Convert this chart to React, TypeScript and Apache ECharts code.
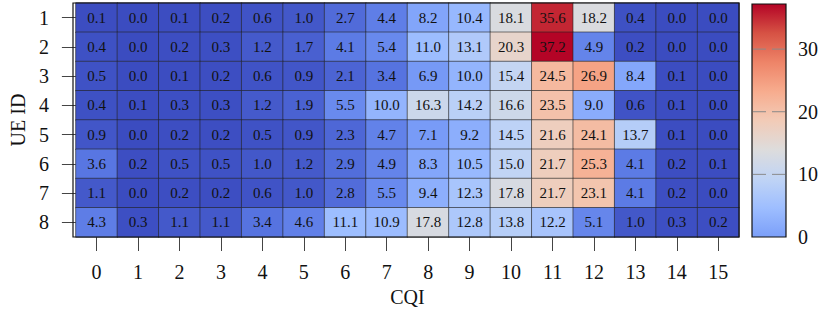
import React, { useEffect, useRef } from "react";
import * as echarts from "echarts";

const cqiLabels = ["0","1","2","3","4","5","6","7","8","9","10","11","12","13","14","15"];
const ueLabels = ["1","2","3","4","5","6","7","8"];
const ue1 = [0.1,0.0,0.1,0.2,0.6,1.0,2.7,4.4,8.2,10.4,18.1,35.6,18.2,0.4,0.0,0.0];
const ue2 = [0.4,0.0,0.2,0.3,1.2,1.7,4.1,5.4,11.0,13.1,20.3,37.2,4.9,0.2,0.0,0.0];
const ue3 = [0.5,0.0,0.1,0.2,0.6,0.9,2.1,3.4,6.9,10.0,15.4,24.5,26.9,8.4,0.1,0.0];
const ue4 = [0.4,0.1,0.3,0.3,1.2,1.9,5.5,10.0,16.3,14.2,16.6,23.5,9.0,0.6,0.1,0.0];
const ue5 = [0.9,0.0,0.2,0.2,0.5,0.9,2.3,4.7,7.1,9.2,14.5,21.6,24.1,13.7,0.1,0.0];
const ue6 = [3.6,0.2,0.5,0.5,1.0,1.2,2.9,4.9,8.3,10.5,15.0,21.7,25.3,4.1,0.2,0.1];
const ue7 = [1.1,0.0,0.2,0.2,0.6,1.0,2.8,5.5,9.4,12.3,17.8,21.7,23.1,4.1,0.2,0.0];
const ue8 = [4.3,0.3,1.1,1.1,3.4,4.6,11.1,10.9,17.8,12.8,13.8,12.2,5.1,1.0,0.3,0.2];
const rows = [ue1, ue2, ue3, ue4, ue5, ue6, ue7, ue8];
const colorbarTicks = [0, 10, 20, 30];
const vMin = 0;
const vMax = 37.2;

const coolwarm = ["#3b4cc0","#5977e3","#7b9ff9","#9ebeff","#c0d4f5","#dddcdc","#f2cbb7","#f7ac8e","#ee8468","#d65244","#b40426"];

const FONT = "'Liberation Serif', 'DejaVu Serif', serif";

export default function App() {
  const ref = useRef<HTMLDivElement>(null);
  useEffect(() => {
    if (!ref.current) return;
    const chart = echarts.init(ref.current, undefined, { renderer: "svg" });
    const data: [number, number, number][] = [];
    rows.forEach((r, yi) => r.forEach((v, xi) => data.push([xi, yi, v])));

    const gL = 73, gT = 3, gW = 666, gH = 234;
    const cbL = 752, cbT = 4, cbW = 34, cbH = 233;
    // colorbar uses coolwarm 0.2..1.0, top = red
    const cbColors = coolwarm.slice(2).reverse();
    const cbStops = cbColors.map((c, i) => ({ offset: i / (cbColors.length - 1), color: c }));

    const graphics: any[] = [
      {
        type: "rect",
        shape: { x: cbL, y: cbT, width: cbW, height: cbH },
        style: {
          fill: {
            type: "linear",
            x: 0, y: 0, x2: 0, y2: 1,
            colorStops: cbStops,
            global: false,
          },
          stroke: "#111",
          lineWidth: 1.2,
        },
        z: 10,
      },
      {
        type: "rect",
        shape: { x: gL, y: gT, width: gW, height: gH },
        style: { fill: "none", stroke: "#111", lineWidth: 1.2 },
        z: 10,
      },
    ];
    colorbarTicks.forEach((t) => {
      const y = cbT + cbH - ((t - vMin) / (vMax - vMin)) * cbH;
      if (t > vMin) {
        graphics.push({
          type: "line",
          shape: { x1: cbL + 1, y1: y, x2: cbL + 14, y2: y },
          style: { stroke: "#8a8a8a", lineWidth: 1 },
          z: 11,
        });
        graphics.push({
          type: "line",
          shape: { x1: cbL + cbW - 14, y1: y, x2: cbL + cbW - 1, y2: y },
          style: { stroke: "#8a8a8a", lineWidth: 1 },
          z: 11,
        });
      }
      graphics.push({
        type: "text",
        x: cbL + cbW + 12,
        y: y,
        style: {
          text: String(t),
          fontSize: 20,
          fontFamily: FONT,
          fill: "#111",
          verticalAlign: "middle",
          align: "left",
        },
        z: 11,
      });
    });

    chart.setOption({
      animation: false,
      backgroundColor: "#fff",
      grid: { left: gL, top: gT, width: gW, height: gH, containLabel: false },
      xAxis: {
        type: "category",
        data: cqiLabels,
        name: "CQI",
        nameLocation: "middle",
        nameGap: 48,
        nameTextStyle: { fontSize: 20, fontFamily: FONT, color: "#111" },
        axisLine: { show: false },
        axisTick: { show: true, alignWithLabel: true, length: 14, lineStyle: { color: "#444", width: 1 } },
        axisLabel: { fontSize: 20, fontFamily: FONT, color: "#111", margin: 25 },
        splitLine: { show: false },
      },
      yAxis: {
        type: "category",
        data: ueLabels,
        inverse: true,
        name: "UE ID",
        nameLocation: "middle",
        nameGap: 43,
        nameTextStyle: { fontSize: 20, fontFamily: FONT, color: "#111" },
        axisLine: { show: false },
        axisTick: { show: true, alignWithLabel: true, length: 14, lineStyle: { color: "#444", width: 1 } },
        axisLabel: { fontSize: 20, fontFamily: FONT, color: "#111", margin: 27 },
        splitLine: { show: false },
      },
      visualMap: {
        show: false,
        min: vMin,
        max: vMax,
        dimension: 2,
        inRange: { color: coolwarm },
      },
      series: [
        {
          type: "heatmap",
          data,
          label: {
            show: true,
            fontSize: 15,
            fontFamily: FONT,
            color: "#111",
            formatter: (p: any) => Number(p.value[2]).toFixed(1),
          },
          itemStyle: { borderColor: "#222", borderWidth: 0.6 },
          emphasis: { disabled: true },
        },
      ],
      graphic: graphics,
    });
    return () => chart.dispose();
  }, []);
  return <div ref={ref} style={{ position: "fixed", left: 0, top: 0, width: 832, height: 314 }} />;
}
